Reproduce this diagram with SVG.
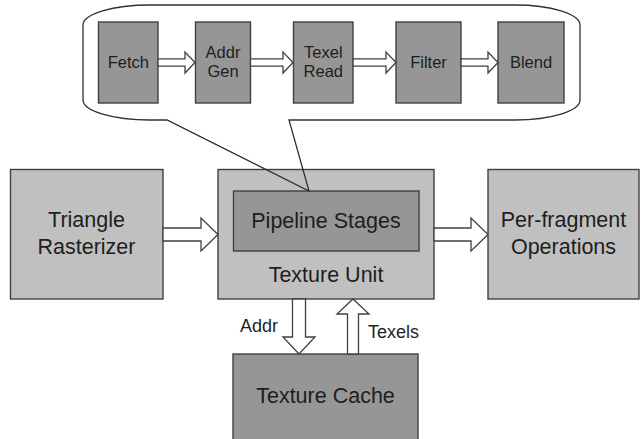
<svg xmlns="http://www.w3.org/2000/svg" width="642" height="439" viewBox="0 0 642 439">
  <style>
    .light { fill: #c0c0c0; stroke: #404040; stroke-width: 1.4; }
    .dark { fill: #969696; stroke: #404040; stroke-width: 1.4; }
    .big { font-family: "Liberation Sans", Arial, sans-serif; font-size: 21.5px; fill: #1e1e1e; text-anchor: middle; }
    .small { font-family: "Liberation Sans", Arial, sans-serif; font-size: 16.5px; fill: #1e1e1e; text-anchor: middle; }
    .lbl { font-family: "Liberation Sans", Arial, sans-serif; font-size: 18px; fill: #1e1e1e; }
    .arrow { fill: #ffffff; stroke: #404040; stroke-width: 1.3; stroke-linejoin: miter; }
    .callout { fill: none; stroke: #303030; stroke-width: 1.3; }
  </style>
  <rect width="642" height="439" fill="#ffffff"/>

  <!-- main blocks -->
  <g id="triangle-rasterizer">
    <rect class="light" x="10.5" y="169.5" width="152.5" height="129.5"/>
    <text class="big" x="86.5" y="227">Triangle</text>
    <text class="big" x="86.5" y="254">Rasterizer</text>
  </g>
  <g id="texture-unit">
    <rect class="light" x="218" y="169.5" width="216" height="129.5"/>
    <text class="big" x="326" y="282">Texture Unit</text>
  </g>
  <g id="pipeline-stages">
    <rect class="dark" x="233.5" y="191" width="185.5" height="60"/>
    <text class="big" x="326" y="228">Pipeline Stages</text>
  </g>
  <g id="per-fragment-operations">
    <rect class="light" x="488" y="169.5" width="151" height="129.5"/>
    <text class="big" x="563.5" y="227">Per-fragment</text>
    <text class="big" x="563.5" y="254">Operations</text>
  </g>
  <g id="texture-cache">
    <rect class="dark" x="233" y="354" width="185" height="100"/>
    <text class="big" x="325.5" y="403">Texture Cache</text>
  </g>

  <!-- expanded view of the pipeline stages -->
  <g id="stage-callout">
    <path class="callout" d="M150,5 L515,5 A65,20 0 0 1 580,25 L580,100 A65,20 0 0 1 515,120 L289,120 L309,191 L167,120 L150,120 A67,20 0 0 1 83,100 L83,25 A67,20 0 0 1 150,5 Z"/>
  </g>
  <g id="fetch">
    <rect class="dark" x="98.5" y="22" width="59.5" height="81"/>
    <text class="small" x="128.3" y="68">Fetch</text>
  </g>
  <g id="addr-gen">
    <rect class="dark" x="195.5" y="22" width="55" height="81"/>
    <text class="small" x="223" y="57.5">Addr</text>
    <text class="small" x="223" y="77">Gen</text>
  </g>
  <g id="texel-read">
    <rect class="dark" x="293.5" y="22" width="59.5" height="81"/>
    <text class="small" x="323.3" y="57.5">Texel</text>
    <text class="small" x="323.3" y="77">Read</text>
  </g>
  <g id="filter">
    <rect class="dark" x="396" y="22" width="65" height="81"/>
    <text class="small" x="428.5" y="68">Filter</text>
  </g>
  <g id="blend">
    <rect class="dark" x="498" y="22" width="66" height="81"/>
    <text class="small" x="531" y="68">Blend</text>
  </g>

  <!-- hollow block arrows -->
  <g id="connectors">
    <path class="arrow" d="M158,58.8 H185 V52 L195,62.5 L185,73 V66.2 H158 Z"/>
    <path class="arrow" d="M250.5,58.8 H283 V52 L293,62.5 L283,73 V66.2 H250.5 Z"/>
    <path class="arrow" d="M353,58.8 H386 V52 L396,62.5 L386,73 V66.2 H353 Z"/>
    <path class="arrow" d="M461,58.8 H488 V52 L498,62.5 L488,73 V66.2 H461 Z"/>
    <path class="arrow" d="M163,228 H201 V218 L218,234.5 L201,251 V241 H163 Z"/>
    <path class="arrow" d="M434,228 H471 V218 L488,234.5 L471,251 V241 H434 Z"/>
    <path class="arrow" d="M292.5,299 V337 H283 L299,354 L315,337 H305.5 V299 Z"/>
    <path class="arrow" d="M347.5,354 V314 H337 L353,299 L369,314 H358.5 V354 Z"/>
    <text class="lbl" x="240" y="332">Addr</text>
    <text class="lbl" x="368" y="338">Texels</text>
  </g>
</svg>
